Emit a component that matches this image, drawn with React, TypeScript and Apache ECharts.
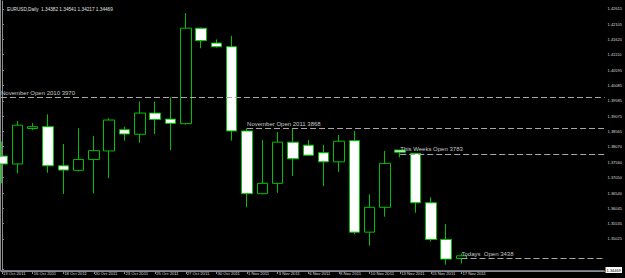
import React, { useEffect, useRef } from "react";
import * as echarts from "echarts";

const dates = [
  "13 Oct 2011", "14 Oct 2011", "16 Oct 2011", "17 Oct 2011", "18 Oct 2011", "19 Oct 2011",
  "20 Oct 2011", "21 Oct 2011", "23 Oct 2011", "24 Oct 2011", "25 Oct 2011", "26 Oct 2011",
  "27 Oct 2011", "28 Oct 2011", "30 Oct 2011", "31 Oct 2011", "1 Nov 2011", "2 Nov 2011",
  "3 Nov 2011", "4 Nov 2011", "6 Nov 2011", "7 Nov 2011", "8 Nov 2011", "9 Nov 2011",
  "10 Nov 2011", "11 Nov 2011", "13 Nov 2011", "14 Nov 2011", "15 Nov 2011", "16 Nov 2011",
  "17 Nov 2011",
];
const opens = [
  1.3776, 1.3750, 1.3867, 1.3873, 1.3744, 1.3729, 1.3765, 1.3793, 1.3863, 1.3848, 1.3918,
  1.3898, 1.3883, 1.4198, 1.4149, 1.4137, 1.3859, 1.3652, 1.3686, 1.3822, 1.3812, 1.3787,
  1.3757, 1.3827, 1.3525, 1.3607, 1.3796, 1.3785, 1.3622, 1.3501, 1.34382,
];
const closes = [
  1.3750, 1.3878, 1.3873, 1.3744, 1.3730, 1.3765, 1.3794, 1.3895, 1.3849, 1.3918, 1.3897,
  1.3884, 1.4198, 1.4157, 1.4137, 1.3859, 1.3652, 1.3686, 1.3822, 1.3767, 1.3779, 1.3757,
  1.3825, 1.3525, 1.3607, 1.3752, 1.3789, 1.3622, 1.3501, 1.3436, 1.34469,
];
const lows = [
  1.3686, 1.3719, 1.3862, 1.3721, 1.3651, 1.3725, 1.3653, 1.3703, 1.3827, 1.3820, 1.3849,
  1.3796, 1.3880, 1.4132, 1.4134, 1.3827, 1.3607, 1.3650, 1.3655, 1.3710, 1.3776, 1.3677,
  1.3724, 1.3518, 1.3480, 1.3576, 1.3772, 1.3589, 1.3494, 1.3418, 1.34217,
];
const highs = [
  1.3824, 1.3892, 1.3885, 1.3914, 1.3816, 1.3868, 1.3842, 1.3901, 1.3873, 1.3956, 1.3956,
  1.3970, 1.4248, 1.4200, 1.4161, 1.4173, 1.3868, 1.3829, 1.3855, 1.3868, 1.3829, 1.3813,
  1.3846, 1.3859, 1.3650, 1.3793, 1.3796, 1.3785, 1.3640, 1.3552, 1.34541,
];
const priceTicks = [
  1.42615, 1.42105, 1.4162, 1.4111, 1.40595, 1.40085, 1.39585, 1.39075, 1.38565, 1.3807,
  1.3756, 1.3705, 1.3654, 1.36045, 1.35535, 1.35025, 1.3402,
];
const dateTickIdx = [0, 2, 4, 6, 8, 10, 12, 14, 16, 18, 20, 22, 24, 26, 28, 30];
const levelNames = ["November Open 2010 3970", "November Open 2011 3868", "This Weeks Open 3783", "Todays  Open 3438"];
const levelValues = [1.397, 1.3868, 1.3783, 1.3438];
const levelStartIdx = [null, 16, 26, 30];
const lastPrice = 1.34469;
const titleText = "EURUSD,Daily  1.34382 1.34541 1.34217 1.34469";

const X_MIN = -0.068;
const X_MAX = 39.34;
const Y_MIN = 1.33968;
const Y_MAX = 1.42878;

export default function App() {
  const ref = useRef<HTMLDivElement>(null);
  useEffect(() => {
    document.body.style.margin = "0";
    document.body.style.background = "#000";
    const chart = echarts.init(ref.current!, null, { renderer: "svg" });
    const data = dates.map((_, i) => [i, opens[i], closes[i], lows[i], highs[i]]);
    const levelLines: any[] = levelNames.map((name, i) => [
      {
        coord: [levelStartIdx[i] === null ? X_MIN : levelStartIdx[i], levelValues[i]],
        label: { formatter: name },
      },
      { coord: [X_MAX, levelValues[i]] },
    ]);
    const option: any = {
      animation: false,
      backgroundColor: "#000",
      title: {
        text: titleText,
        left: 2,
        top: 2,
        textStyle: { color: "#e0e0e0", fontSize: 4.7, fontWeight: "normal", fontFamily: "Liberation Sans" },
      },
      grid: { left: 0, right: 20, top: 1, bottom: 7 },
      xAxis: {
        type: "value",
        min: X_MIN,
        max: X_MAX,
        axisLine: { show: true, lineStyle: { color: "#8a8a8a", width: 1 } },
        axisTick: { show: true, customValues: dateTickIdx, length: 3, lineStyle: { color: "#8a8a8a" } },
        axisLabel: {
          customValues: dateTickIdx,
          formatter: (v: number) => dates[Math.round(v)] ?? "",
          align: "left",
          margin: 0.5,
          color: "#d8d8d8",
          fontSize: 4.2,
          fontFamily: "Liberation Sans",
          padding: [0, 0, 0, 1],
        },
        splitLine: { show: false },
      },
      yAxis: {
        type: "value",
        position: "right",
        min: Y_MIN,
        max: Y_MAX,
        axisLine: { show: true, lineStyle: { color: "#8a8a8a", width: 1 } },
        axisTick: { show: true, customValues: priceTicks, length: 2, lineStyle: { color: "#8a8a8a" } },
        axisLabel: {
          customValues: priceTicks,
          formatter: (v: number) => v.toFixed(5),
          margin: 3,
          color: "#d8d8d8",
          fontSize: 4,
          fontFamily: "Liberation Sans",
        },
        splitLine: { show: false },
      },
      graphic: [
        {
          type: "line",
          shape: { x1: 0.5, y1: 0, x2: 0.5, y2: 271 },
          style: { stroke: "#8a8a8a", lineWidth: 1 },
          z: -1,
        },
      ],
      series: [
        {
          type: "candlestick",
          data,
          encode: { x: 0, y: [1, 2, 3, 4] },
          barWidth: 11,
          clip: true,
          itemStyle: {
            color: "#000000",
            color0: "#ffffff",
            borderColor: "#00c000",
            borderColor0: "#00c000",
            borderWidth: 1,
          },
          markLine: {
            silent: true,
            symbol: ["none", "none"],
            animation: false,
            data: [
              ...levelLines,
              {
                yAxis: lastPrice,
                lineStyle: { type: "solid", color: "#6a7080", width: 1 },
                label: {
                  show: true,
                  position: "end",
                  formatter: lastPrice.toFixed(5),
                  backgroundColor: "#ffffff",
                  color: "#000000",
                  fontSize: 4,
                  fontFamily: "Liberation Sans",
                  padding: [1, 1],
                  distance: 1,
                },
              },
            ],
            lineStyle: { type: [6, 3], color: "#a8a8a8", width: 1 },
            label: {
              show: true,
              position: "insideStartTop",
              distance: [0, 1.5],
              color: "#c8c8c8",
              fontSize: 6,
              fontFamily: "Liberation Sans",
            },
          },
        },
      ],
    };
    chart.setOption(option);
    return () => chart.dispose();
  }, []);
  return <div ref={ref} style={{ width: 625, height: 278 }} />;
}
